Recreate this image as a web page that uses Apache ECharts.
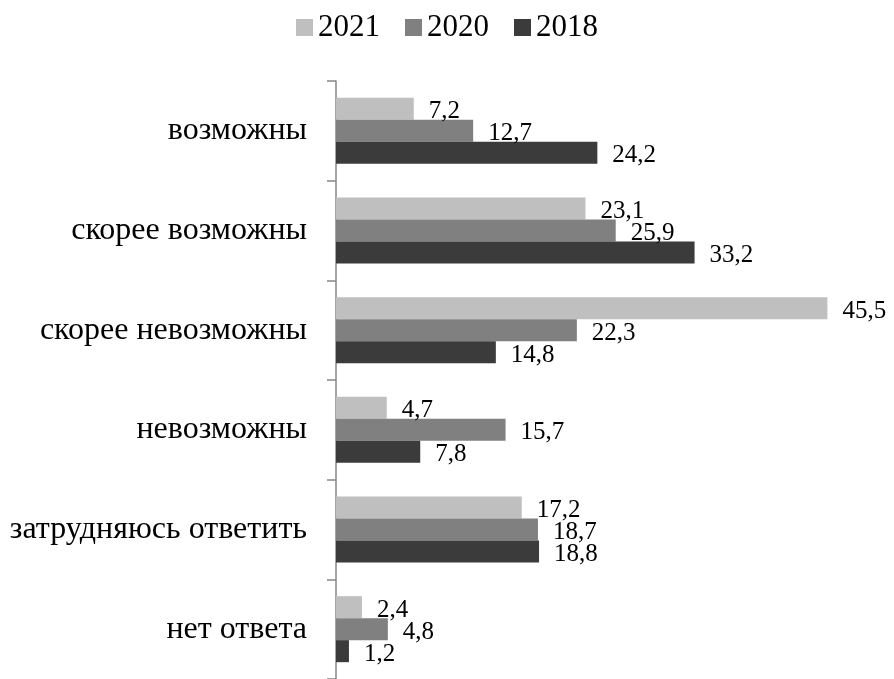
<!DOCTYPE html>
<html>
<head>
    <meta charset="utf-8">
    <script src="https://cdn.jsdelivr.net/npm/echarts@6/dist/echarts.min.js"></script>
</head>
<body style="margin:0">
    <div id="container" style="width: 894px;height: 679px;"></div>
    <script type="text/javascript">
        var categories = ['возможны', 'скорее возможны', 'скорее невозможны', 'невозможны', 'затрудняюсь ответить', 'нет ответа'];
        var years = ['2021', '2020', '2018'];
        var values2021 = [7.2, 23.1, 45.5, 4.7, 17.2, 2.4];
        var values2020 = [12.7, 25.9, 22.3, 15.7, 18.7, 4.8];
        var values2018 = [24.2, 33.2, 14.8, 7.8, 18.8, 1.2];
        var colors = ['#bfbfbf', '#808080', '#3b3b3b'];

        var font = '"Liberation Serif", "Times New Roman", serif';
        var myChart = echarts.init(document.getElementById('container'));

        function makeSeries(name, data, color) {
            return {
                name: name,
                type: 'bar',
                data: data,
                barWidth: 22,
                barGap: '0%',
                itemStyle: { color: color },
                label: {
                    show: true,
                    position: 'right',
                    distance: 15,
                    offset: [0, 3],
                    color: '#000',
                    fontFamily: font,
                    fontSize: 25,
                    formatter: function (p) {
                        return String(p.value).replace('.', ',');
                    }
                }
            };
        }

        var option = {
            animation: false,
            backgroundColor: '#fff',
            legend: {
                top: 7,
                left: 'center',
                icon: 'rect',
                itemWidth: 17,
                itemHeight: 17,
                itemGap: 25,
                textStyle: { fontFamily: font, fontSize: 31, color: '#000' },
                data: years
            },
            grid: { left: 336, top: 81, width: 540, height: 600 },
            xAxis: {
                type: 'value',
                min: 0,
                max: 50,
                show: false
            },
            yAxis: {
                type: 'category',
                inverse: true,
                data: categories,
                axisLine: { lineStyle: { color: '#868686', width: 1.5 } },
                axisTick: { show: true, length: 9, lineStyle: { color: '#868686', width: 1.5 } },
                axisLabel: { margin: 29, color: '#000', fontFamily: font, fontSize: 32, padding: [8, 0, 0, 0] }
            },
            series: [
                makeSeries(years[0], values2021, colors[0]),
                makeSeries(years[1], values2020, colors[1]),
                makeSeries(years[2], values2018, colors[2])
            ]
        };
        myChart.setOption(option);
    </script>
</body>
</html>
